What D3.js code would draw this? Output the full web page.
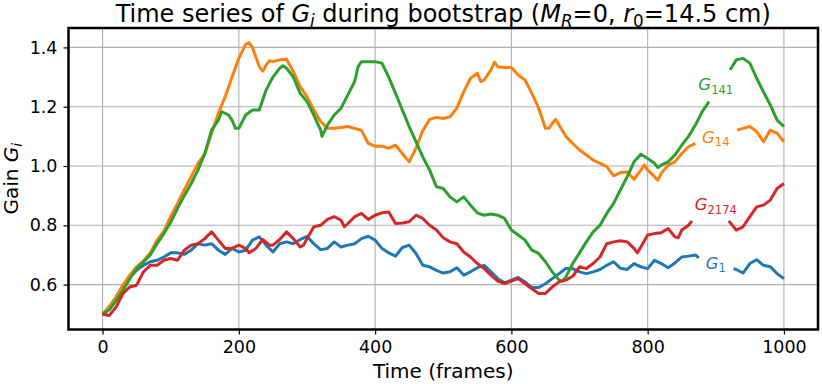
<!DOCTYPE html>
<html>
<head>
<meta charset="utf-8">
<script src="https://cdn.jsdelivr.net/npm/d3@7"></script>
<style>
  body { margin: 0; background: #fff; }
  text { font-family: "DejaVu Sans", sans-serif; fill: #000; }
</style>
</head>
<body>
<div id="chart"></div>
<script>
// G_1 (blue)
const g1Frames = [0,10,20,30,40,50,60,70,80,90,100,110,120,130,140,150,160,170,180,190,200,210,220,230,240,250,260,270,280,290,300,310,320,330,340,350,360,370,380,390,400,410,420,430,440,450,460,470,480,490,500,510,520,530,540,550,560,570,580,590,600,610,620,630,640,650,660,670,680,690,700,710,720,730,740,750,760,770,780,790,800,810,820,830,840,850,860,870,875,900,926,930,940,950,960,970,980,990,1000];
const g1Values = [0.50,0.525,0.558,0.598,0.626,0.648,0.665,0.677,0.682,0.693,0.707,0.707,0.702,0.716,0.738,0.733,0.738,0.716,0.702,0.722,0.71,0.716,0.75,0.761,0.733,0.71,0.738,0.744,0.738,0.752,0.763,0.738,0.718,0.722,0.744,0.727,0.733,0.738,0.755,0.763,0.75,0.722,0.707,0.696,0.725,0.733,0.705,0.665,0.66,0.648,0.639,0.643,0.657,0.632,0.643,0.657,0.665,0.643,0.62,0.606,0.615,0.624,0.609,0.59,0.59,0.603,0.62,0.637,0.654,0.654,0.643,0.637,0.643,0.651,0.665,0.677,0.655,0.651,0.671,0.66,0.654,0.682,0.671,0.657,0.673,0.693,0.696,0.70,0.69,null,0.654,0.651,0.639,0.671,0.684,0.665,0.66,0.637,0.62];

// G_14 (orange)
const g14Frames = [0,10,20,30,40,50,60,70,80,90,100,110,120,130,140,150,160,170,180,190,200,210,215,220,230,235,240,245,250,260,270,280,290,300,310,320,330,340,350,360,370,380,390,400,410,420,430,440,450,460,470,480,490,500,510,520,530,540,550,555,560,570,575,580,590,600,610,620,630,640,650,655,660,665,670,680,690,700,710,720,730,740,750,760,770,780,790,795,800,810,815,820,830,840,850,860,870,900,931,940,950,960,970,980,990,1000];
const g14Values = [0.50,0.525,0.558,0.598,0.632,0.66,0.68,0.707,0.75,0.78,0.83,0.874,0.92,0.964,1.009,1.04,1.11,1.178,1.234,1.30,1.363,1.41,1.416,1.40,1.335,1.32,1.34,1.355,1.352,1.358,1.36,1.318,1.268,1.234,1.19,1.15,1.127,1.127,1.13,1.133,1.127,1.12,1.076,1.067,1.067,1.06,1.07,1.042,1.014,1.06,1.12,1.157,1.164,1.16,1.166,1.195,1.25,1.296,1.313,1.285,1.29,1.324,1.35,1.335,1.332,1.332,1.307,1.29,1.245,1.195,1.127,1.127,1.144,1.157,1.138,1.10,1.076,1.054,1.037,1.02,1.009,0.998,0.967,0.978,0.98,0.955,0.986,1.003,0.986,0.964,0.952,0.975,1.003,1.014,1.042,1.065,1.076,null,1.121,1.127,1.133,1.116,1.082,1.121,1.11,1.082];

// G_141 (green)
const g141Frames = [0,10,20,30,40,50,60,70,80,90,100,110,120,130,140,150,160,170,175,185,190,195,200,210,220,230,240,250,260,265,270,280,290,300,310,320,322,330,340,350,360,370,375,380,390,400,410,420,430,440,450,460,470,480,490,500,510,520,530,540,550,560,570,580,590,600,610,620,630,640,650,660,670,675,680,690,700,710,720,730,740,750,760,770,780,790,800,810,815,820,830,840,850,860,870,880,890,905,921,930,940,950,960,970,980,990,1000];
const g141Values = [0.50,0.515,0.547,0.58,0.62,0.654,0.676,0.70,0.738,0.772,0.81,0.857,0.90,0.94,0.986,1.042,1.121,1.155,1.183,1.172,1.155,1.127,1.127,1.172,1.189,1.189,1.256,1.30,1.33,1.338,1.33,1.30,1.245,1.217,1.172,1.121,1.10,1.138,1.172,1.195,1.24,1.285,1.335,1.352,1.352,1.352,1.347,1.30,1.245,1.189,1.133,1.082,1.031,0.986,0.93,0.924,0.896,0.879,0.896,0.868,0.842,0.834,0.838,0.834,0.823,0.784,0.767,0.75,0.716,0.705,0.677,0.643,0.615,0.612,0.626,0.671,0.707,0.744,0.778,0.80,0.84,0.874,0.919,0.964,1.014,1.04,1.025,1.009,0.995,1.003,1.014,1.037,1.07,1.10,1.138,1.183,1.217,null,1.324,1.358,1.363,1.347,1.296,1.25,1.206,1.155,1.133];

// G_2174 (red)
const g2174Frames = [0,10,20,30,40,50,60,70,80,90,100,110,120,130,140,150,160,170,180,190,200,210,215,225,235,245,250,260,270,280,290,295,300,310,320,330,340,350,355,360,370,380,390,400,410,420,430,440,450,460,470,480,490,500,510,520,530,540,550,560,570,580,590,600,610,620,630,640,650,660,670,680,690,700,710,720,730,740,750,760,770,780,785,790,800,810,820,830,840,845,850,860,865,890,919,930,940,950,960,970,980,990,1000];
const g2174Values = [0.50,0.496,0.525,0.57,0.592,0.598,0.643,0.665,0.665,0.682,0.688,0.682,0.716,0.733,0.738,0.755,0.778,0.75,0.722,0.722,0.733,0.722,0.707,0.722,0.752,0.733,0.733,0.752,0.778,0.755,0.727,0.733,0.755,0.795,0.80,0.82,0.829,0.817,0.795,0.806,0.829,0.84,0.82,0.834,0.842,0.845,0.806,0.808,0.812,0.834,0.823,0.80,0.784,0.758,0.744,0.738,0.71,0.693,0.671,0.654,0.632,0.612,0.603,0.612,0.62,0.603,0.586,0.57,0.57,0.592,0.609,0.615,0.628,0.66,0.654,0.671,0.693,0.738,0.744,0.748,0.744,0.722,0.707,0.727,0.767,0.772,0.775,0.789,0.761,0.758,0.784,0.80,0.815,null,0.815,0.784,0.795,0.829,0.862,0.868,0.885,0.924,0.941];

const seriesNames = ["1", "14", "141", "2174"];
const seriesColors = ["#1f77b4", "#ff7f0e", "#2ca02c", "#d62728"];
// inline label anchors (data coords)
const labelFrames = [900, 900, 900, 900];
const labelValues = [0.670, 1.096, 1.273, 0.868];

const xTicks = [0, 200, 400, 600, 800, 1000];
const yTicks = [0.6, 0.8, 1.0, 1.2, 1.4];

const series = [
    { frames: g1Frames, values: g1Values },
    { frames: g14Frames, values: g14Values },
    { frames: g141Frames, values: g141Values },
    { frames: g2174Frames, values: g2174Values }
].map((s, i) => ({
    name: seriesNames[i],
    color: seriesColors[i],
    points: s.frames.map((f, j) => ({ frame: f, value: s.values[j] }))
}));

const W = 822, H = 384;
const margin = { top: 28, right: 4, bottom: 54.5, left: 68.5 };
const width = W - margin.left - margin.right;
const height = H - margin.top - margin.bottom;

const svg = d3.select("#chart")
    .append("svg")
    .attr("width", W)
    .attr("height", H);

const g = svg.append("g")
    .attr("transform", `translate(${margin.left},${margin.top})`);

const x = d3.scaleLinear().domain([-50, 1050]).range([0, width]);
const y = d3.scaleLinear().domain([0.4485, 1.4655]).range([height, 0]);

// text with italic / subscript pieces
function richText(sel, parts, size) {
    let shift = 0;
    parts.forEach(p => {
        const target = p.sub ? size * 0.22 : 0;
        const ts = sel.append("tspan").attr("dy", target - shift).text(p.t);
        shift = target;
        if (p.italic) ts.attr("font-style", "italic");
        if (p.sub) ts.attr("font-size", size * 0.7);
    });
}

// grid
g.append("g")
    .selectAll("line")
    .data(xTicks)
    .join("line")
    .attr("x1", d => x(d)).attr("x2", d => x(d))
    .attr("y1", 0).attr("y2", height)
    .attr("stroke", "#b0b0b0").attr("stroke-width", 1.1);

g.append("g")
    .selectAll("line")
    .data(yTicks)
    .join("line")
    .attr("x1", 0).attr("x2", width)
    .attr("y1", d => y(d)).attr("y2", d => y(d))
    .attr("stroke", "#b0b0b0").attr("stroke-width", 1.1);

// lines
const line = d3.line()
    .defined(d => d.value !== null)
    .x(d => x(d.frame))
    .y(d => y(d.value));

g.append("g")
    .selectAll("path")
    .data(series)
    .join("path")
    .attr("fill", "none")
    .attr("stroke", d => d.color)
    .attr("stroke-width", 3)
    .attr("stroke-linejoin", "round")
    .attr("d", d => line(d.points));

// inline labels
series.forEach((s, i) => {
    const t = g.append("text")
        .attr("x", x(labelFrames[i]))
        .attr("y", y(labelValues[i]) + 5)
        .attr("text-anchor", "middle")
        .attr("font-size", 16.5)
        .style("fill", s.color)
        .attr("stroke", "#fff")
        .attr("stroke-width", 3)
        .attr("paint-order", "stroke");
    richText(t, [{ t: "G", italic: true }, { t: s.name, sub: true }], 16.5);
});

// frame
g.append("rect")
    .attr("width", width).attr("height", height)
    .attr("fill", "none")
    .attr("stroke", "#000")
    .attr("stroke-width", 2.5);

// axes
const xAxis = g.append("g")
    .attr("transform", `translate(0,${height})`)
    .call(d3.axisBottom(x).tickValues(xTicks).tickSize(5).tickPadding(6).tickFormat(d3.format("d")));
const yAxis = g.append("g")
    .call(d3.axisLeft(y).tickValues(yTicks).tickSize(5).tickPadding(6).tickFormat(d3.format(".1f")));

[xAxis, yAxis].forEach(a => {
    a.select(".domain").remove();
    a.selectAll(".tick line").attr("stroke", "#000").attr("stroke-width", 1.2);
    a.selectAll(".tick text").attr("font-size", 17.5).attr("font-family", "DejaVu Sans").attr("fill", "#000");
});

// axis labels
svg.append("text")
    .attr("x", margin.left + width / 2)
    .attr("y", 378)
    .attr("text-anchor", "middle")
    .attr("font-size", 20)
    .text("Time (frames)");

const yl = svg.append("text")
    .attr("transform", `translate(18,${margin.top + height / 2}) rotate(-90)`)
    .attr("text-anchor", "middle")
    .attr("font-size", 20);
richText(yl, [{ t: "Gain " }, { t: "G", italic: true }, { t: "i", italic: true, sub: true }], 20);

// title
const title = svg.append("text")
    .attr("x", margin.left + width / 2)
    .attr("y", 22)
    .attr("text-anchor", "middle")
    .attr("font-size", 24);
richText(title, [
    { t: "Time series of " },
    { t: "G", italic: true }, { t: "i", italic: true, sub: true },
    { t: " during bootstrap (" },
    { t: "M", italic: true }, { t: "R", italic: true, sub: true },
    { t: "=0, " },
    { t: "r", italic: true }, { t: "0", sub: true },
    { t: "=14.5 cm)" }
], 24);
</script>
</body>
</html>
